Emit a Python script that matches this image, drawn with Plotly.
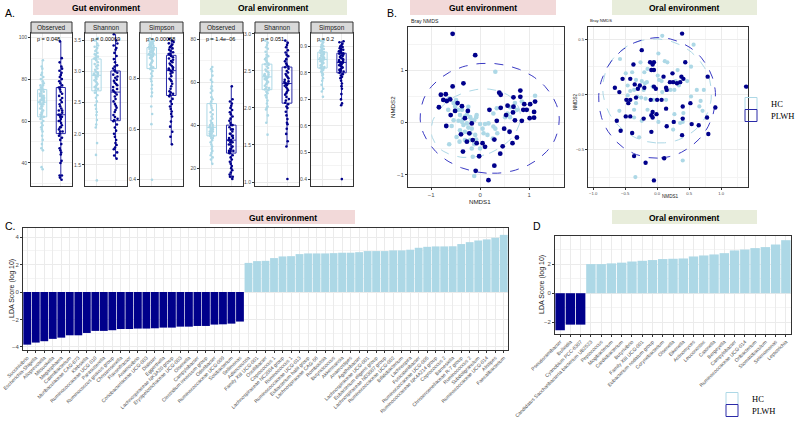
import numpy as np
import plotly.graph_objects as go

W, H = 798, 433
HC_COLOR = "#add8e6"
PLWH_COLOR = "#00008b"
PLWH_LINE = "#2a2aa8"
GRID = "#ebebeb"
BORDER = "#333333"
TICKC = "#4d4d4d"
SANS = "Liberation Sans"

# ---------------- Panel A data (alpha diversity) ----------------
obs_gut_hc = [89, 86, 85, 83, 82, 81, 80, 79, 78, 77, 77, 76, 76, 75, 75, 75, 74, 74, 73, 73, 72, 72, 72, 71, 71, 71,
              70, 70, 70, 70, 69, 69, 69, 68, 68, 68, 67, 67, 66, 66, 65, 65, 64, 64, 63, 63, 62, 62, 61, 60, 59, 58,
              57, 56, 55, 53, 51, 49, 47, 46, 38, 37]
obs_gut_plwh = [98, 90, 88, 86, 85, 84, 83, 82, 81, 80, 79, 78, 77, 76, 76, 75, 74, 73, 72, 71, 70, 69, 68, 67, 66,
                65, 65, 64, 63, 63, 63, 62, 62, 61, 60, 60, 59, 58, 57, 57, 56, 55, 55, 54, 53, 52, 51, 49, 47, 46,
                45, 44, 41, 40, 34, 34, 33, 32]
sha_gut_hc = [3.54, 3.5, 3.45, 3.42, 3.4, 3.38, 3.35, 3.33, 3.3, 3.28, 3.26, 3.24, 3.22, 3.21, 3.2, 3.18, 3.15, 3.12,
              3.1, 3.08, 3.05, 3.03, 3.0, 2.99, 2.98, 2.97, 2.96, 2.95, 2.94, 2.93, 2.92, 2.9, 2.88, 2.86, 2.84, 2.82,
              2.8, 2.78, 2.76, 2.75, 2.74, 2.72, 2.7, 2.66, 2.62, 2.58, 2.52, 2.46, 2.4, 2.35, 2.3, 2.22, 2.15, 2.1,
              1.85, 1.66, 1.25]
sha_gut_plwh = [3.6, 3.5, 3.45, 3.42, 3.38, 3.35, 3.3, 3.25, 3.2, 3.15, 3.1, 3.08, 3.05, 3.02, 3.0, 2.98, 2.95, 2.92,
                2.9, 2.87, 2.85, 2.82, 2.8, 2.78, 2.75, 2.72, 2.7, 2.68, 2.66, 2.63, 2.6, 2.56, 2.52, 2.48, 2.45,
                2.42, 2.38, 2.35, 2.3, 2.27, 2.24, 2.22, 2.2, 2.15, 2.1, 2.05, 2.0, 1.95, 1.9, 1.85, 1.82, 1.78,
                1.75, 1.7, 1.65, 1.6]
sim_gut_hc = [0.96, 0.955, 0.95, 0.948, 0.945, 0.942, 0.94, 0.938, 0.935, 0.933, 0.93, 0.928, 0.926, 0.925, 0.922,
              0.92, 0.918, 0.915, 0.912, 0.91, 0.908, 0.905, 0.903, 0.9, 0.899, 0.898, 0.897, 0.895, 0.893, 0.89,
              0.888, 0.885, 0.882, 0.88, 0.875, 0.87, 0.865, 0.86, 0.855, 0.85, 0.845, 0.842, 0.838, 0.83, 0.82,
              0.81, 0.8, 0.79, 0.775, 0.76, 0.745, 0.73, 0.69, 0.66, 0.62, 0.40]
sim_gut_plwh = [0.957, 0.95, 0.945, 0.94, 0.935, 0.93, 0.925, 0.92, 0.915, 0.91, 0.905, 0.9, 0.898, 0.895, 0.89,
                0.885, 0.88, 0.875, 0.87, 0.865, 0.86, 0.855, 0.85, 0.845, 0.84, 0.838, 0.836, 0.834, 0.83, 0.825,
                0.82, 0.81, 0.8, 0.795, 0.79, 0.78, 0.77, 0.76, 0.75, 0.745, 0.74, 0.737, 0.73, 0.72, 0.71, 0.7,
                0.69, 0.68, 0.67, 0.66, 0.65, 0.63, 0.61, 0.59, 0.57, 0.54]
obs_oral_hc = [80, 67, 66, 65, 63, 61, 60, 58, 57, 56, 55, 53, 52, 51, 50, 49, 48, 47, 46, 45, 44, 43, 42, 41, 41,
               40, 40, 39, 39, 39, 38, 38, 38, 38, 37, 37, 37, 37, 36, 36, 36, 36, 35, 35, 35, 34, 34, 33, 32, 31,
               30, 29, 28, 27, 26, 25, 24, 22]
obs_oral_plwh = [58, 52, 51, 50, 49, 48, 47, 46, 45, 44, 43, 42, 41, 40, 40, 39, 38, 38, 37, 36, 36, 35, 35, 34, 34,
                 33, 33, 33, 32, 32, 32, 31, 31, 30, 30, 29, 29, 28, 28, 28, 27, 27, 26, 25, 24, 23, 22, 21, 20, 19,
                 18, 17, 16, 16, 15]
sha_oral_hc = [2.91, 2.88, 2.85, 2.82, 2.8, 2.76, 2.72, 2.7, 2.68, 2.66, 2.64, 2.62, 2.6, 2.59, 2.58, 2.56, 2.54,
               2.52, 2.5, 2.49, 2.48, 2.46, 2.45, 2.44, 2.43, 2.42, 2.42, 2.41, 2.4, 2.39, 2.38, 2.36, 2.35, 2.34,
               2.32, 2.3, 2.28, 2.27, 2.26, 2.25, 2.24, 2.22, 2.2, 2.17, 2.14, 2.1, 2.06, 2.02, 2.0, 1.98, 1.9, 1.8,
               1.64]
sha_oral_plwh = [2.91, 2.88, 2.85, 2.82, 2.78, 2.75, 2.72, 2.7, 2.66, 2.63, 2.6, 2.58, 2.56, 2.55, 2.53, 2.5, 2.48,
                 2.46, 2.44, 2.42, 2.4, 2.38, 2.36, 2.35, 2.34, 2.33, 2.33, 2.32, 2.31, 2.3, 2.28, 2.26, 2.24, 2.22,
                 2.2, 2.18, 2.15, 2.12, 2.1, 2.07, 2.05, 2.02, 2.0, 1.95, 1.9, 1.85, 1.8, 1.78, 1.72, 1.65, 1.55,
                 1.48, 1.04]
sim_oral_hc = [0.924, 0.92, 0.915, 0.91, 0.905, 0.9, 0.897, 0.893, 0.89, 0.887, 0.884, 0.882, 0.88, 0.878, 0.875,
               0.872, 0.87, 0.868, 0.865, 0.862, 0.86, 0.858, 0.856, 0.854, 0.853, 0.852, 0.851, 0.85, 0.848, 0.846,
               0.844, 0.842, 0.84, 0.837, 0.834, 0.831, 0.828, 0.825, 0.822, 0.82, 0.818, 0.816, 0.813, 0.81, 0.805,
               0.8, 0.795, 0.79, 0.78, 0.77, 0.755, 0.74, 0.73, 0.71]
sim_oral_plwh = [0.919, 0.915, 0.91, 0.905, 0.9, 0.897, 0.893, 0.89, 0.887, 0.884, 0.881, 0.878, 0.876, 0.874,
                 0.872, 0.869, 0.866, 0.863, 0.86, 0.857, 0.854, 0.851, 0.848, 0.845, 0.843, 0.841, 0.84, 0.838,
                 0.835, 0.832, 0.829, 0.826, 0.823, 0.82, 0.817, 0.814, 0.811, 0.808, 0.805, 0.803, 0.8, 0.795, 0.79,
                 0.785, 0.78, 0.77, 0.76, 0.75, 0.74, 0.72, 0.7, 0.685, 0.678, 0.40]
alpha_metrics = ["Observed", "Shannon", "Simpson", "Observed", "Shannon", "Simpson"]
alpha_pvalues = ["p = 0.048", "p = 0.00069", "p = 0.00088", "p = 1.4e\u221206", "p = 0.051", "p = 0.2"]

# ---------------- Panel B data (Bray NMDS) ----------------
nmds_gut_hc_x = [0.31, 0.41, 1.12, 0.85, 0.71, 0.61, 0.34, 0.27, 0.10, 0.00, -0.08, -0.12, -0.20, -0.31, -0.41, -0.44,
                 -0.51, -0.54, -0.63, -0.49, -0.65, -0.58, -0.44, -0.37, -0.34, -0.27, -0.24, -0.17, -0.41, -0.31,
                 -0.20, -0.10, -0.48, -0.42, -0.31, -0.20, -0.12, -0.63, 0.00, -0.17, -0.08, -0.15, -0.12, 0.05, 0.17,
                 0.27, 0.31, 0.15, 0.26, 0.35, 0.56, 0.51, 0.75, 0.92, 0.61, -0.37, -0.27, -0.35, -0.17, -0.54, -0.07,
                 -0.24, 0.07]
nmds_gut_hc_y = [0.97, 0.56, 0.51, 0.40, 0.37, 0.29, 0.27, 0.17, -0.03, -0.03, 0.10, 0.04, 0.10, 0.11, 0.14, 0.24,
                 0.30, 0.37, 0.46, 0.43, 0.24, -0.07, 0.03, 0.01, -0.05, -0.02, -0.10, -0.12, -0.15, -0.18, -0.21,
                 -0.24, -0.28, -0.37, -0.34, -0.34, -0.42, -0.42, -0.50, -0.50, -0.33, -0.66, -1.03, -0.12, -0.02,
                 -0.08, -0.12, -0.24, -0.31, -0.21, 0.17, 0.10, 0.24, 0.24, 0.10, 0.24, 0.15, 0.06, 0.04, 0.04, 0.14,
                 0.30, -0.21]
nmds_gut_plwh_x = [-0.56, -0.10, -0.34, -0.56, -0.80, -0.70, -0.75, -0.68, -0.61, -0.84, -0.46, -0.37, -0.60, -0.51,
                   -0.69, -0.31, -0.17, -0.39, -0.27, -0.15, -0.07, 0.05, -0.35, -0.02, -0.09, 0.17, 0.29, 0.41, 0.46,
                   0.29, 0.39, 0.42, 0.19, 0.42, 0.34, 0.53, 0.49, 0.60, 0.68, 0.68, 0.67, 0.82, 0.82, 0.90, 0.88,
                   0.95, 1.02, 1.12, 1.10, 1.10, 1.01, 0.85, 0.75, 0.66, 0.56, 0.71, -0.25, -0.22, 0.10]
nmds_gut_plwh_y = [1.70, 1.29, 0.75, 0.69, 0.53, 0.54, 0.43, 0.41, 0.44, 0.29, 0.37, 0.31, 0.14, 0.22, -0.07, 0.08,
                   -0.02, -0.23, -0.37, -0.34, -0.40, -0.40, -0.56, -0.65, -0.93, -1.11, -0.83, -0.60, -0.46, -0.33,
                   0.57, 0.53, 0.24, 0.28, 0.03, 0.14, -0.12, -0.18, 0.48, 0.30, 0.19, 0.61, 0.49, 0.35, 0.24, 0.24,
                   0.35, 0.40, 0.20, 0.09, 0.08, 0.03, -0.29, -0.40, 0.32, 0.04, 0.22, -0.21, -0.47]
nmds_oral_hc_x = [0.08, 0.57, -0.58, -0.26, 0.02, 0.12, 0.16, 0.53, -0.49, -0.39, -0.20, -0.33, -0.24, -0.19, -0.16,
                  0.01, 0.03, 0.07, 0.29, 0.47, -0.36, -0.42, -0.21, 0.08, 0.27, 0.62, 0.73, 0.68, -0.31, -0.25,
                  -0.18, -0.46, -0.33, -0.06, -0.59, -0.36, -0.15, 0.66, 0.71, 0.27, 0.41, -0.36, -0.24, 0.02, 0.36,
                  0.40, 0.25, -0.28, 0.40, -0.34, 0.21, 0.34, -0.07, -0.46, -0.15, 0.32, 0.14, 0.53]
nmds_oral_hc_y = [0.53, 0.45, 0.32, 0.29, 0.37, 0.30, 0.29, 0.25, 0.19, 0.20, 0.20, 0.13, 0.12, 0.10, 0.11, 0.17,
                  0.13, 0.12, 0.12, 0.12, 0.04, 0.03, 0.04, 0.02, 0.04, 0.04, 0.04, -0.06, -0.02, -0.03, -0.04, -0.01,
                  -0.08, -0.05, -0.15, -0.14, -0.14, -0.11, -0.15, -0.18, -0.17, -0.21, -0.24, -0.25, -0.26, -0.25,
                  -0.32, -0.39, -0.60, -0.75, 0.04, 0.08, 0.07, 0.08, 0.23, 0.22, -0.05, -0.02]
nmds_oral_plwh_x = [0.39, -0.24, -0.11, -0.07, -0.05, -0.37, 0.44, -0.09, -0.05, 0.24, 0.10, 0.38, 0.41, -0.54, -0.42,
                    0.79, 0.20, 0.25, 0.31, 0.36, -0.35, -0.27, -0.20, -0.05, -0.02, 0.14, 0.15, -0.66, -0.59, 1.39,
                    -0.30, -0.33, -0.48, -0.42, -0.45, 0.07, -0.10, 0.00, 0.52, 0.91, 0.14, 0.40, -0.07, -0.01, -0.09,
                    -0.07, -0.49, -0.42, -0.63, -0.21, 0.40, 0.26, 0.54, 0.65, 0.78, 0.15, -0.57, -0.39, -0.09, 0.39,
                    0.80, -0.36, -0.18, 0.11, -0.05]
nmds_oral_plwh_y = [0.55, 0.40, 0.29, 0.27, 0.29, 0.27, 0.29, 0.22, 0.22, 0.19, 0.16, 0.16, 0.14, 0.14, 0.14, 0.16,
                    0.11, 0.11, 0.10, 0.11, 0.09, 0.08, 0.06, 0.07, 0.05, 0.06, 0.04, 0.06, 0.02, 0.07, 0.05, -0.03,
                    -0.05, -0.05, -0.08, -0.05, -0.05, -0.05, -0.08, -0.12, -0.13, -0.11, -0.16, -0.18, -0.19, -0.21,
                    -0.20, -0.20, -0.24, -0.22, -0.22, -0.25, -0.27, -0.28, -0.21, -0.29, -0.33, -0.35, -0.34, -0.37,
                    -0.36, -0.56, -0.62, -0.58, -0.78]

# ---------------- Panel C data (LEfSe gut) ----------------
gut_plwh_taxa = ["Succinivibrio", "Escherichia-Shigella", "Alloprevotella", "Mitsuokella", "Megasphaera",
                 "Catenibacterium", "Muribaculaceae CAG-873", "Klebsiella", "Ruminococcaceae UCG 010",
                 "Parasutterella", "Ruminococcus gnavus group", "Christensenella", "Flavonifractor", "Anaerovibrio",
                 "Coriobacteriaceae UCG-003", "Dialister", "Eggerthella", "Lachnospiraceae NK3A20 group",
                 "Erysipelotrichaceae UCG-003", "Olsenella", "Campylobacter", "Clostridium innocuum group",
                 "Odoribacter", "Ruminococcaceae UCG-009", "Solobacterium", "Sellimonas"]
gut_plwh_lda = [-3.83, -3.68, -3.58, -3.41, -3.32, -3.15, -3.15, -2.98, -2.83, -2.83, -2.78, -2.69, -2.69, -2.66,
                -2.66, -2.64, -2.59, -2.59, -2.52, -2.52, -2.47, -2.47, -2.37, -2.35, -2.30, -2.15]
gut_hc_taxa = ["Adlercreutzia", "Family XIII UCG-001", "Oscillibacter", "Coprococcus 1",
               "Lachnospiraceae NC2004 group", "Ruminococcus 1", "Ruminococcaceae UCG-013",
               "Eubacterium hallii group", "Lachnospiraceae CAG-56", "Romboutsia", "Butyricicoccus", "Akkermansia",
               "Anaerostipes", "Agathobacter", "Lachnospiraceae UCG-001", "Eubacterium eligens group",
               "Lachnospiraceae ND3007 group", "Ruminococcaceae UCG-002", "Bifidobacterium", "Lachnospira",
               "Fusicatenibacter", "Ruminococcaceae UCG-005", "Ruminococcaceae NK4A214 group", "Coprococcus 2",
               "Barnesiella", "Christensenellaceae R-7 group", "Ruminococcus 2", "Subdoligranulum",
               "Ruminococcaceae UCG-014", "Alistipes", "Faecalibacterium"]
gut_hc_lda = [2.12, 2.25, 2.27, 2.47, 2.59, 2.61, 2.76, 2.81, 2.81, 2.81, 2.83, 2.86, 2.86, 2.90, 2.98, 2.98, 2.98,
              3.03, 3.03, 3.08, 3.22, 3.29, 3.32, 3.32, 3.33, 3.49, 3.63, 3.75, 3.83, 3.95, 4.16]

# ---------------- Panel D data (LEfSe oral) ----------------
oral_plwh_taxa = ["Pseudoramibacter", "Bulleidia", "Cyanobium PCC-6307"]
oral_plwh_lda = [-2.57, -2.18, -2.18]
oral_hc_taxa = ["Candidatus Saccharibacteria bacterium UB2523", "Peptococcus", "Mogibacterium", "Cardiobacterium",
                "Butyrivibrio", "Family XIII UCG-001", "Eubacterium nodatum group", "Corynebacterium", "Olsenella",
                "Eikenella", "Actinomyces", "Leuconostoc", "Catonella", "Bergeyella", "Campylobacter",
                "Ruminococcaceae UCG-014", "Oribacterium", "Stomatobaculum", "Selenomonas", "Leptotrichia"]
oral_hc_lda = [2.02, 2.02, 2.07, 2.12, 2.20, 2.25, 2.30, 2.37, 2.39, 2.41, 2.55, 2.62, 2.69, 2.78, 2.97, 3.03, 3.13,
               3.20, 3.38, 3.68]


# ---------------- helpers ----------------
def xdom(a, b):
    return [a / W, b / W]


def ydom(top, bottom):
    return [1 - bottom / H, 1 - top / H]


def px_x(a):
    return a / W


def px_y(b):
    return 1 - b / H


def refs(k):
    return ("x" if k == 1 else f"x{k}"), ("y" if k == 1 else f"y{k}")


def axkeys(k):
    return ("xaxis" if k == 1 else f"xaxis{k}"), ("yaxis" if k == 1 else f"yaxis{k}")


def ellipse_from(xs, ys, level=0.95, npts=120, nu=5):
    """Robust (multivariate t) ellipse like ggplot2::stat_ellipse(type='t')."""
    X = np.column_stack([np.asarray(xs, float), np.asarray(ys, float)])
    n = len(X)
    w = np.ones(n)
    mu = X.mean(axis=0)
    cov = np.cov(X.T)
    for _ in range(200):
        mu = (w[:, None] * X).sum(axis=0) / w.sum()
        D = X - mu
        cov = (w[:, None, None] * np.einsum("ni,nj->nij", D, D)).sum(axis=0) / n
        d2 = np.einsum("ni,ij,nj->n", D, np.linalg.inv(cov), D)
        w = (nu + 2) / (nu + d2)
    m = n - 1
    fq = (m / 2.0) * ((1 - level) ** (-2.0 / m) - 1)
    r = np.sqrt(2 * fq)
    vals, vecs = np.linalg.eigh(cov)
    t = np.linspace(0, 2 * np.pi, npts)
    circ = np.vstack([np.cos(t), np.sin(t)])
    pts = vecs @ (np.sqrt(vals)[:, None] * circ) * r
    return pts[0] + mu[0], pts[1] + mu[1]


fig = go.Figure()
layout = {}
shapes = []
annotations = []

base_axis = dict(showgrid=True, gridcolor=GRID, gridwidth=0.8, zeroline=False, showline=True, mirror=True,
                 linecolor=BORDER, linewidth=1, ticks="outside", ticklen=2, tickcolor=BORDER, automargin=False,
                 tickfont=dict(family=SANS, color=TICKC, size=5))

# ---------------- Panel A ----------------
a_data = [(obs_gut_hc, obs_gut_plwh), (sha_gut_hc, sha_gut_plwh), (sim_gut_hc, sim_gut_plwh),
          (obs_oral_hc, obs_oral_plwh), (sha_oral_hc, sha_oral_plwh), (sim_oral_hc, sim_oral_plwh)]
a_xpix = [(31, 72), (85, 127), (140, 183), (200, 243), (255, 299), (311, 353)]
a_yrange = [(29, 102), (1.16, 3.62), (0.375, 0.981), (11.7, 82.8), (0.946, 3.013), (0.374, 0.95)]
a_dtick = [(20, 10, None), (0.5, 0.25, ".1f"), (0.2, 0.1, ".1f"), (20, 10, None), (0.5, 0.25, ".1f"),
           (0.1, 0.05, ".1f")]
A_TOP, A_BOT, STRIP_TOP = 33, 186, 22
legend_slots = {0: ("legend", "legend2"), 3: ("legend3", "legend4")}

for i in range(6):
    k = i + 1
    xr, yr = refs(k)
    xk, yk = axkeys(k)
    hc, pl = a_data[i]
    show = i in legend_slots
    lg_hc, lg_pl = legend_slots.get(i, ("legend", "legend"))
    fig.add_trace(go.Box(y=hc, name="HC", xaxis=xr, yaxis=yr, boxpoints="all", jitter=0.6, pointpos=0,
                         marker=dict(color=HC_COLOR, size=2.6), line=dict(color=HC_COLOR, width=1),
                         fillcolor="rgba(0,0,0,0)", whiskerwidth=0, showlegend=show,
                         legend=lg_hc, legendgroup=f"hc{i}"))
    fig.add_trace(go.Box(y=pl, name="PLWH", xaxis=xr, yaxis=yr, boxpoints="all", jitter=0.6, pointpos=0,
                         marker=dict(color=PLWH_COLOR, size=2.6), line=dict(color=PLWH_LINE, width=1),
                         fillcolor="rgba(0,0,0,0)", whiskerwidth=0, showlegend=show,
                         legend=lg_pl, legendgroup=f"pl{i}"))
    x0, x1 = a_xpix[i]
    major, minor, fmt = a_dtick[i]
    layout[xk] = dict(base_axis, domain=xdom(x0, x1), anchor=yr, type="category", range=[-0.6, 1.6],
                      showticklabels=False, ticks="")
    yax = dict(base_axis, domain=ydom(A_TOP, A_BOT), anchor=xr, range=list(a_yrange[i]), dtick=major, tick0=0,
               minor=dict(showgrid=True, gridcolor="#f4f4f4", dtick=minor, tick0=0, ticks=""))
    if fmt:
        yax["tickformat"] = fmt
    layout[yk] = yax
    # strip
    shapes.append(dict(type="rect", xref="paper", yref="paper", x0=px_x(x0), x1=px_x(x1), y0=px_y(A_TOP),
                       y1=px_y(STRIP_TOP), fillcolor="#d9d9d9", line=dict(color=BORDER, width=1)))
    annotations.append(dict(text=alpha_metrics[i], xref="paper", yref="paper", x=px_x((x0 + x1) / 2),
                            y=px_y((A_TOP + STRIP_TOP) / 2), showarrow=False,
                            font=dict(family=SANS, size=6.5, color="#1a1a1a"), xanchor="center", yanchor="middle"))
    annotations.append(dict(text=alpha_pvalues[i], xref="paper", yref="paper", x=px_x(x0 + 4), y=px_y(38.5),
                            showarrow=False, font=dict(family=SANS, size=5.5, color="black"), xanchor="left",
                            yanchor="middle"))

# ---------------- Panel B ----------------
b_sets = [(nmds_gut_hc_x, nmds_gut_hc_y, nmds_gut_plwh_x, nmds_gut_plwh_y),
          (nmds_oral_hc_x, nmds_oral_hc_y, nmds_oral_plwh_x, nmds_oral_plwh_y)]
b_xpix = [(408, 564), (588, 748)]
b_xrange = [(-1.47, 1.71), (-1.08, 1.42)]
b_yrange = [(-1.24, 1.83), (-0.84, 0.61)]
b_dtick = [(1, 0.5, None), (0.5, 0.25, ".1f")]
b_font = [6, 4.2]
for j in range(2):
    k = 7 + j
    xr, yr = refs(k)
    xk, yk = axkeys(k)
    hx, hy, px_, py_ = b_sets[j]
    ex, ey = ellipse_from(hx, hy)
    fig.add_trace(go.Scatter(x=ex, y=ey, mode="lines", xaxis=xr, yaxis=yr, showlegend=False,
                             line=dict(color=HC_COLOR, width=1, dash="dash")))
    ex, ey = ellipse_from(px_, py_)
    fig.add_trace(go.Scatter(x=ex, y=ey, mode="lines", xaxis=xr, yaxis=yr, showlegend=False,
                             line=dict(color="#3b3bc4", width=1, dash="dash")))
    fig.add_trace(go.Scatter(x=hx, y=hy, mode="markers", xaxis=xr, yaxis=yr, showlegend=False,
                             marker=dict(color=HC_COLOR, size=4.6 if j == 0 else 4.2)))
    fig.add_trace(go.Scatter(x=px_, y=py_, mode="markers", xaxis=xr, yaxis=yr, showlegend=False,
                             marker=dict(color=PLWH_COLOR, size=4.8 if j == 0 else 4.4)))
    x0, x1 = b_xpix[j]
    major, minor, fmt = b_dtick[j]
    common = dict(base_axis, tickfont=dict(family=SANS, color=TICKC, size=b_font[j]))
    xa = dict(common, domain=xdom(x0, x1), anchor=yr, range=list(b_xrange[j]), dtick=major, tick0=0,
              minor=dict(showgrid=True, gridcolor="#f4f4f4", dtick=minor, tick0=0, ticks=""))
    ya = dict(common, domain=ydom(27, 187), anchor=xr, range=list(b_yrange[j]), dtick=major, tick0=0,
              minor=dict(showgrid=True, gridcolor="#f4f4f4", dtick=minor, tick0=0, ticks=""))
    if fmt:
        xa["tickformat"] = fmt
        ya["tickformat"] = fmt
    layout[xk] = xa
    layout[yk] = ya

# B labels
annotations += [
    dict(text="Bray NMDS", x=px_x(409), y=px_y(21), font=dict(family=SANS, size=5.2, color="#1a1a1a")),
    dict(text="Bray NMDS", x=px_x(588), y=px_y(21), font=dict(family=SANS, size=4.2, color="#1a1a1a")),
    dict(text="NMDS1", x=px_x(480), y=px_y(201), font=dict(family=SANS, size=6.2, color="#1a1a1a"),
         xanchor="center"),
    dict(text="NMDS1", x=px_x(670), y=px_y(196), font=dict(family=SANS, size=4.6, color="#1a1a1a"),
         xanchor="center"),
    dict(text="NMDS2", x=px_x(393), y=px_y(107), textangle=-90, font=dict(family=SANS, size=6.2, color="#1a1a1a"),
         xanchor="center"),
    dict(text="NMDS2", x=px_x(575), y=px_y(102), textangle=-90, font=dict(family=SANS, size=4.6, color="#1a1a1a"),
         xanchor="center"),
]

# ---------------- Panel C & D ----------------
bar_sets = [(gut_plwh_taxa, gut_plwh_lda, gut_hc_taxa, gut_hc_lda),
            (oral_plwh_taxa, oral_plwh_lda, oral_hc_taxa, oral_hc_lda)]
bar_xpix = [(23, 508), (555, 791)]
bar_ypix = [(228, 350), (236, 334)]
bar_yrange = [(-4.22, 4.66), (-2.83, 3.97)]
bar_title_x = [12, 542]
for j in range(2):
    k = 9 + j
    xr, yr = refs(k)
    xk, yk = axkeys(k)
    pt, pv, ht, hv = bar_sets[j]
    fig.add_trace(go.Bar(x=pt, y=pv, xaxis=xr, yaxis=yr, marker=dict(color=PLWH_COLOR, line=dict(width=0)),
                         showlegend=False))
    fig.add_trace(go.Bar(x=ht, y=hv, xaxis=xr, yaxis=yr, marker=dict(color=HC_COLOR, line=dict(width=0)),
                         showlegend=False))
    x0, x1 = bar_xpix[j]
    t0, t1 = bar_ypix[j]
    layout[xk] = dict(base_axis, domain=xdom(x0, x1), anchor=yr, type="category",
                      categoryorder="array", categoryarray=list(pt) + list(ht),
                      tickangle=-45, tickfont=dict(family=SANS, color="#4d4d4d", size=5))
    layout[yk] = dict(base_axis, domain=ydom(t0, t1), anchor=xr, range=list(bar_yrange[j]), dtick=2, tick0=0,
                      tickfont=dict(family=SANS, color=TICKC, size=6),
                      minor=dict(showgrid=True, gridcolor="#f4f4f4", dtick=1, tick0=0, ticks=""))
    annotations.append(dict(text="LDA Score (log 10)", x=px_x(bar_title_x[j]), y=px_y((t0 + t1) / 2),
                            textangle=-90, xanchor="center", yanchor="middle",
                            font=dict(family=SANS, size=7, color="#1a1a1a")))

# ---------------- headers & panel letters ----------------
headers = [("Gut environment", 33, 178, 0, 15, "#f2d9d9"), ("Oral environment", 200, 347, 0, 15, "#e8eddb"),
           ("Gut environment", 410, 556, 0, 15, "#f2d9d9"), ("Oral environment", 612, 757, 0, 15, "#e8eddb"),
           ("Gut environment", 210, 355, 210, 224, "#f2d9d9"), ("Oral environment", 612, 757, 210, 224, "#e8eddb")]
for text, x0, x1, y0, y1, col in headers:
    shapes.append(dict(type="rect", xref="paper", yref="paper", x0=px_x(x0), x1=px_x(x1), y0=px_y(y1),
                       y1=px_y(y0), fillcolor=col, line=dict(width=0), layer="below"))
    annotations.append(dict(text=f"<b>{text}</b>", x=px_x((x0 + x1) / 2), y=px_y((y0 + y1) / 2 + 0.5),
                            xanchor="center", yanchor="middle", font=dict(family=SANS, size=8.5, color="black")))

for text, x, y in [("A.", 3, 13), ("B.", 385, 13), ("C.", 3, 226), ("D", 531, 226)]:
    annotations.append(dict(text=text, x=px_x(x), y=px_y(y), xanchor="left", yanchor="middle",
                            font=dict(family=SANS, size=10.5, color="black")))

for a in annotations:
    a.setdefault("xref", "paper")
    a.setdefault("yref", "paper")
    a.setdefault("showarrow", False)
    a.setdefault("xanchor", "left")
    a.setdefault("yanchor", "middle")


def legend_box(x, top):
    return dict(x=px_x(x), y=px_y(top), xanchor="left", yanchor="top", bgcolor="rgba(0,0,0,0)",
                font=dict(family="Liberation Serif", size=8.5, color="black"), itemwidth=30, tracegroupgap=0)


fig.update_layout(
    width=W, height=H, margin=dict(l=0, r=0, t=0, b=0, pad=0, autoexpand=False),
    paper_bgcolor="white", plot_bgcolor="white",
    boxmode="overlay", barmode="overlay", bargap=0.08, shapes=shapes, annotations=annotations,
    legend=legend_box(731, 89), legend2=legend_box(731, 101),
    legend3=legend_box(712, 384), legend4=legend_box(712, 396),
    **layout,
)

fig.write_html("out.html", config={"displayModeBar": False},
               post_script="document.body.style.margin='0';document.body.style.padding='0';")
